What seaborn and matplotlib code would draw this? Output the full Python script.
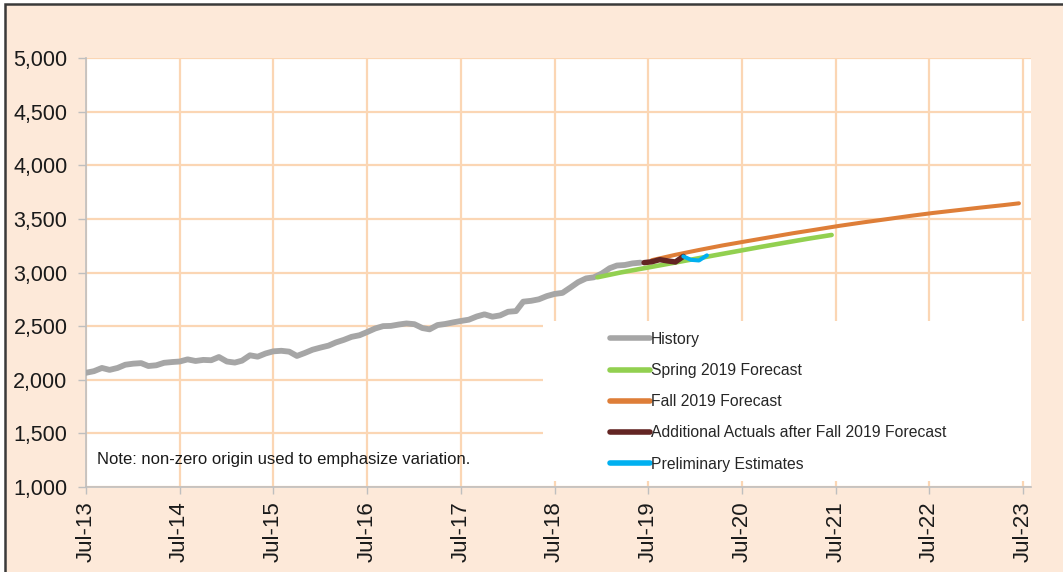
#!/usr/bin/env python3
# -*- coding: utf-8 -*-
"""History vs. forecasts line chart (non-zero origin)."""

import pandas as pd
import matplotlib
matplotlib.use("Agg")
import matplotlib.pyplot as plt
import matplotlib.dates as mdates
import matplotlib.ticker as mticker
from matplotlib.patches import Rectangle
import seaborn as sns

# -------------------- data --------------------
history_start = "2013-07-01"
history_values = [
    2065, 2080, 2110, 2092, 2110, 2140, 2150, 2155, 2128, 2135, 2158, 2165,   # Jul-13 .. Jun-14
    2170, 2190, 2175, 2185, 2182, 2212, 2170, 2160, 2178, 2228, 2215, 2245,   # Jul-14 .. Jun-15
    2265, 2270, 2262, 2222, 2250, 2280, 2300, 2318, 2348, 2372, 2400, 2415,   # Jul-15 .. Jun-16
    2445, 2478, 2500, 2502, 2515, 2525, 2518, 2482, 2470, 2510, 2520, 2535,   # Jul-16 .. Jun-17
    2548, 2560, 2590, 2610, 2588, 2600, 2634, 2640, 2728, 2736, 2750, 2780,   # Jul-17 .. Jun-18
    2800, 2810, 2860, 2910, 2945, 2955, 2990, 3040, 3065, 3070, 3085, 3092,   # Jul-18 .. Jun-19
]

spring_dates = ["2018-12-15", "2019-03-15", "2019-06-15", "2019-09-15", "2019-12-15",
                "2020-03-15", "2020-06-15", "2020-09-15", "2020-12-15", "2021-03-15",
                "2021-06-15"]
spring_values = [2955, 3000, 3040, 3080, 3120, 3160, 3200, 3240, 3278, 3315, 3350]

fall_dates = ["2019-07-15", "2019-10-15", "2020-01-15", "2020-04-15", "2020-07-15",
              "2020-10-15", "2021-01-15", "2021-04-15", "2021-07-15", "2021-10-15",
              "2022-01-15", "2022-04-15", "2022-07-15", "2022-10-15", "2023-01-15",
              "2023-04-15", "2023-06-15"]
fall_values = [3115, 3165, 3210, 3252, 3290, 3328, 3366, 3400, 3435, 3467,
               3497, 3527, 3555, 3580, 3605, 3628, 3645]

actual_dates = ["2019-06-15", "2019-07-15", "2019-08-15", "2019-09-15", "2019-10-15",
                "2019-11-15"]
actual_values = [3092, 3100, 3120, 3108, 3098, 3150]

prelim_dates = ["2019-11-15", "2019-12-15", "2020-01-15", "2020-02-15"]
prelim_values = [3150, 3118, 3112, 3160]

series_names = ["History", "Spring 2019 Forecast", "Fall 2019 Forecast",
                "Additional Actuals after Fall 2019 Forecast", "Preliminary Estimates"]
series_colors = ["#A6A6A6", "#92D050", "#DE7E38", "#632523", "#00B0F0"]
series_widths = [4.2, 3.3, 2.9, 3.9, 2.9]

y_ticks = [1000, 1500, 2000, 2500, 3000, 3500, 4000, 4500, 5000]
note_text = "Note: non-zero origin used to emphasize variation."

PEACH = "#FDE9D9"
GRID = "#FBD6B4"
SPINE = "#BFBFBF"


def main():
    frames = [
        pd.DataFrame({"date": pd.date_range(history_start, periods=len(history_values), freq="MS"),
                      "value": history_values}),
        pd.DataFrame({"date": pd.to_datetime(spring_dates), "value": spring_values}),
        pd.DataFrame({"date": pd.to_datetime(fall_dates), "value": fall_values}),
        pd.DataFrame({"date": pd.to_datetime(actual_dates), "value": actual_values}),
        pd.DataFrame({"date": pd.to_datetime(prelim_dates), "value": prelim_values}),
    ]

    sns.set_style("white")
    plt.rcParams["font.family"] = ["Liberation Sans", "DejaVu Sans"]

    fig = plt.figure(figsize=(10.63, 5.72), dpi=100, facecolor="white")
    # peach frame with dark border (cut at right/bottom like the original)
    fig.patches.append(Rectangle((5 / 1063, -0.05), 1.2, 1.05 - 4 / 572,
                                 transform=fig.transFigure, facecolor=PEACH,
                                 edgecolor="#3A3A3A", linewidth=1.8, zorder=-10))

    ax = fig.add_axes([86 / 1063, 1 - 487 / 572, 945 / 1063, 429 / 572])
    ax.set_facecolor("white")

    # white box behind the legend hides the gridlines
    ax.add_patch(Rectangle((0.4836, 0.014), 0.52, 0.373, transform=ax.transAxes,
                           facecolor="white", edgecolor="none", zorder=1.5))

    for df, name, color, lw in zip(frames, series_names, series_colors, series_widths):
        sns.lineplot(data=df, x="date", y="value", ax=ax, color=color, linewidth=lw,
                     label=name, zorder=3, solid_capstyle="round")

    ax.set_ylim(1000, 5000)
    ax.set_yticks(y_ticks)
    ax.yaxis.set_major_formatter(mticker.StrMethodFormatter("{x:,.0f}"))
    ax.set_xlim(pd.Timestamp("2013-07-01"), pd.Timestamp("2023-08-01"))
    ax.xaxis.set_major_locator(mdates.MonthLocator(bymonth=7))
    ax.xaxis.set_major_formatter(mdates.DateFormatter("%b-%y"))

    ax.grid(True, color=GRID, linewidth=1.6, zorder=1)
    ax.set_axisbelow(True)
    for side in ["top", "right"]:
        ax.spines[side].set_visible(False)
    for side in ["left", "bottom"]:
        ax.spines[side].set_color(SPINE)
        ax.spines[side].set_linewidth(1.2)

    ax.tick_params(axis="y", labelsize=15.5, colors=SPINE, labelcolor="#1A1A1A",
                   length=5.8, width=1, left=True, pad=7.5)
    ax.tick_params(axis="x", labelsize=16, colors=SPINE, labelcolor="#1A1A1A",
                   length=5, width=1, bottom=True, labelrotation=90, pad=5.5)
    ax.set_xlabel("")
    ax.set_ylabel("")

    ax.text(0.0116, 0.063, note_text, transform=ax.transAxes, fontsize=12,
            color="#1A1A1A", va="center", ha="left")

    leg = ax.legend(loc="upper left", bbox_to_anchor=(0.5548, 0.3615), frameon=False,
                    fontsize=11.3, handlelength=2.5, handletextpad=0.08,
                    labelspacing=1.03, borderpad=0, borderaxespad=0)
    for line in leg.get_lines():
        line.set_solid_capstyle("round")
        line.set_linewidth(4)

    fig.savefig("out.png", dpi=100, facecolor=fig.get_facecolor())
    plt.close(fig)


if __name__ == "__main__":
    main()
